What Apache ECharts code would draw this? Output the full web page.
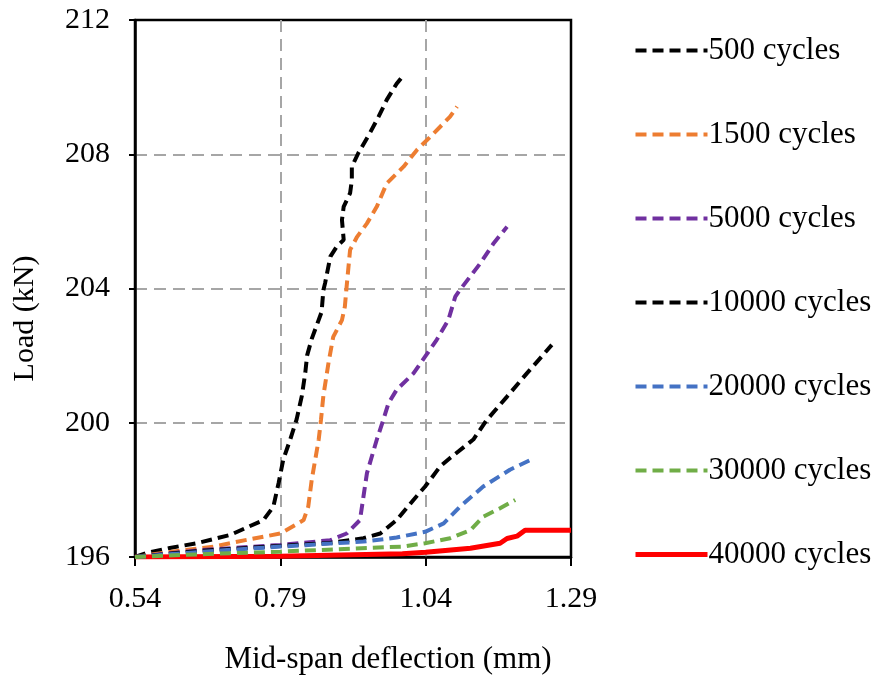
<!DOCTYPE html>
<html>
<head>
<meta charset="utf-8">
<script src="https://cdn.jsdelivr.net/npm/echarts@6/dist/echarts.min.js"></script>
<style>
  html, body { margin: 0; padding: 0; background: #fff; }
  #chart { width: 880px; height: 682px; }
</style>
</head>
<body>
<div id="chart"></div>
<script>
// [deflection mm, load kN]
const cycles500 = [[0.54,196.0],[0.56,196.12],[0.60,196.27],[0.646,196.41],[0.704,196.66],[0.761,197.1],[0.778,197.5],[0.787,198.2],[0.795,198.9],[0.807,199.5],[0.818,200.1],[0.827,200.8],[0.833,201.5],[0.836,202.0],[0.844,202.5],[0.861,203.3],[0.864,203.95],[0.867,204.16],[0.876,204.95],[0.887,205.25],[0.899,205.45],[0.896,206.04],[0.899,206.44],[0.910,206.84],[0.913,207.23],[0.913,207.63],[0.924,208.03],[0.944,208.63],[0.959,209.12],[0.973,209.62],[0.990,210.1],[1.002,210.36]];
const cycles1500 = [[0.54,196.0],[0.60,196.15],[0.675,196.31],[0.732,196.51],[0.790,196.7],[0.830,197.1],[0.838,197.5],[0.844,198.3],[0.850,198.9],[0.856,199.5],[0.860,200.1],[0.864,200.8],[0.873,201.8],[0.881,202.56],[0.896,203.06],[0.901,203.46],[0.904,204.05],[0.910,205.15],[0.922,205.54],[0.939,205.94],[0.956,206.44],[0.973,207.13],[1.002,207.63],[1.025,208.13],[1.048,208.52],[1.082,209.12],[1.094,209.42]];
const cycles5000 = [[0.54,196.0],[0.65,196.2],[0.79,196.36],[0.876,196.5],[0.904,196.7],[0.927,197.1],[0.933,197.8],[0.939,198.5],[0.956,199.5],[0.967,200.08],[0.976,200.58],[0.990,200.98],[1.019,201.47],[1.039,201.97],[1.059,202.47],[1.079,203.06],[1.091,203.76],[1.099,203.96],[1.134,204.75],[1.157,205.35],[1.180,205.84]];
const cycles10000 = [[0.54,196.0],[0.65,196.18],[0.79,196.33],[0.876,196.42],[0.933,196.56],[0.962,196.7],[0.990,197.1],[1.019,197.7],[1.039,198.1],[1.065,198.7],[1.082,198.95],[1.122,199.5],[1.145,200.08],[1.180,200.78],[1.214,201.47],[1.257,202.32]];
const cycles20000 = [[0.54,196.0],[0.65,196.15],[0.79,196.31],[0.876,196.4],[0.933,196.46],[0.990,196.58],[1.039,196.75],[1.071,197.0],[1.099,197.5],[1.139,198.1],[1.185,198.6],[1.226,198.94]];
const cycles30000 = [[0.54,196.0],[0.65,196.08],[0.79,196.16],[0.90,196.24],[1.0,196.31],[1.039,196.41],[1.082,196.56],[1.117,196.8],[1.139,197.2],[1.168,197.45],[1.194,197.7]];
const cycles40000 = [[0.54,196.0],[0.79,196.02],[1.0,196.1],[1.04,196.14],[1.117,196.26],[1.168,196.41],[1.18,196.55],[1.197,196.62],[1.211,196.8],[1.29,196.8]];

const seriesNames = ["500 cycles", "1500 cycles", "5000 cycles", "10000 cycles", "20000 cycles", "30000 cycles", "40000 cycles"];
const seriesData = [cycles500, cycles1500, cycles5000, cycles10000, cycles20000, cycles30000, cycles40000];
const colors = ["#000000", "#ED7D31", "#7030A0", "#000000", "#4472C4", "#70AD47", "#FF0000"];
const xTicks = [0.54, 0.79, 1.04, 1.29];

const font = "'Liberation Serif', 'Times New Roman', serif";
const chart = echarts.init(document.getElementById("chart"));

const series = seriesNames.map((name, i) => {
  const solid = i === 6;
  return {
    name: name,
    type: "line",
    data: seriesData[i],
    showSymbol: false,
    symbol: "none",
    z: solid ? 1 : 2,
    lineStyle: {
      color: colors[i],
      width: solid ? 5 : 4,
      type: solid ? "solid" : [11, 6]
    },
    itemStyle: { color: colors[i] }
  };
});

const gridDash = { color: "#A6A6A6", width: 2, type: [12, 7] };

chart.setOption({
  animation: false,
  backgroundColor: "#fff",
  grid: {
    left: 135, right: 309, top: 20, bottom: 125,
    show: true, borderColor: "#000", borderWidth: 2.5
  },
  legend: {
    orient: "vertical",
    left: 628,
    top: 30,
    itemWidth: 72,
    itemHeight: 12,
    itemGap: 53,
    itemStyle: { opacity: 0 },
    lineStyle: { width: "inherit" },
    textStyle: { fontFamily: font, fontSize: 31, color: "#000", padding: [0, 0, 0, -4] },
    data: seriesNames
  },
  xAxis: {
    type: "value",
    min: 0.54,
    max: 1.29,
    name: "Mid-span deflection (mm)",
    nameLocation: "middle",
    nameGap: 87,
    nameTextStyle: { fontFamily: font, fontSize: 31, color: "#000", padding: [0, 0, 0, 70] },
    axisLine: { lineStyle: { color: "#000", width: 2.5 } },
    axisTick: { show: true, inside: false, length: 9, customValues: xTicks, lineStyle: { color: "#000", width: 2 } },
    axisLabel: {
      customValues: xTicks,
      formatter: v => v.toFixed(2),
      margin: 27,
      fontFamily: font, fontSize: 30, color: "#000"
    },
    splitLine: { show: true, showMinLine: false, showMaxLine: false, lineStyle: gridDash }
  },
  yAxis: {
    type: "value",
    min: 196,
    max: 212,
    interval: 4,
    name: "Load (kN)",
    nameLocation: "middle",
    nameGap: 95,
    nameTextStyle: { fontFamily: font, fontSize: 30, color: "#000", padding: [0, 60, 0, 0] },
    axisLine: { show: true, lineStyle: { color: "#000", width: 2.5 } },
    axisTick: { show: true, inside: false, length: 6, lineStyle: { color: "#000", width: 2 } },
    axisLabel: { margin: 25, fontFamily: font, fontSize: 30, color: "#000" },
    splitLine: { show: true, showMinLine: false, showMaxLine: false, lineStyle: gridDash }
  },
  series: series
});
</script>
</body>
</html>
